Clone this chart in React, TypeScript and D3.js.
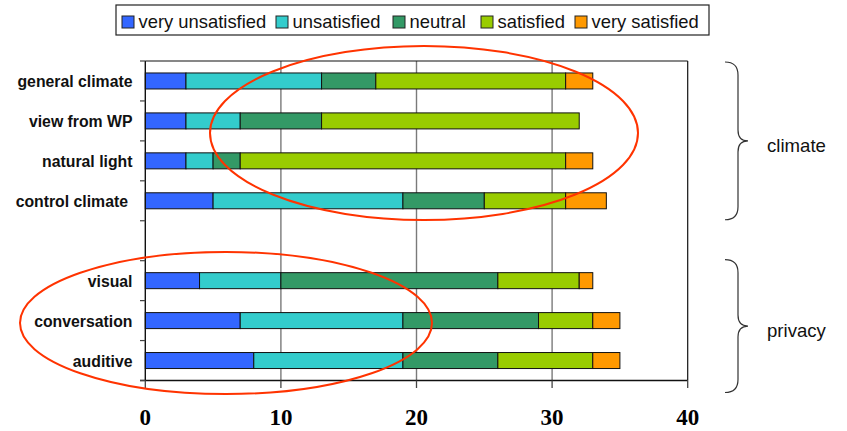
import React from "react";
import * as d3 from "d3";

const climateCategories = ["general climate", "view from WP", "natural light", "control climate"];
const privacyCategories = ["visual", "conversation", "auditive"];
const categories = [...climateCategories, ...privacyCategories];

const seriesNames = ["very unsatisfied", "unsatisfied", "neutral", "satisfied", "very satisfied"];
const seriesColors = ["#3366FF", "#33CCCC", "#339966", "#99CC00", "#FF9900"];

const veryUnsatisfied = [3, 3, 3, 5, 4, 7, 8];
const unsatisfied = [10, 4, 2, 14, 6, 12, 11];
const neutral = [4, 6, 2, 6, 16, 10, 7];
const satisfied = [14, 19, 24, 6, 6, 4, 7];
const verySatisfied = [2, 0, 2, 3, 1, 2, 2];

const xTicks = [0, 10, 20, 30, 40];
const groupLabels = ["climate", "privacy"];

const W = 847;
const H = 431;
const GAP = "__gap__";

export default function App() {
  const seriesValues = [veryUnsatisfied, unsatisfied, neutral, satisfied, verySatisfied];
  const rows = categories.map((c, i) => {
    const r: any = { category: c };
    seriesNames.forEach((s, k) => (r[s] = seriesValues[k][i]));
    return r;
  });
  const stacked = d3.stack().keys(seriesNames)(rows);

  const x = d3.scaleLinear().domain([0, 40]).range([145.3, 687.7]);
  const domain = [...climateCategories, GAP, ...privacyCategories];
  const y = d3.scaleBand().domain(domain).range([61, 380.5]);
  const bw = y.bandwidth();
  const barH = 16;

  const sans = "'Liberation Sans', Arial, sans-serif";
  const serif = "'Liberation Serif', 'Times New Roman', serif";

  const legendX = [122, 276, 393, 481, 575];

  const brace = (y0: number, y1: number) => {
    const xe = 725, xs = 738, xp = 748;
    const m = (y0 + y1) / 2;
    return `M${xe},${y0} Q${xs},${y0} ${xs},${y0 + 13} L${xs},${m - 11} Q${xs},${m} ${xp},${m} Q${xs},${m} ${xs},${m + 11} L${xs},${y1 - 13} Q${xs},${y1} ${xe},${y1}`;
  };

  const climateTop = y(climateCategories[0])!;
  const climateBot = y(climateCategories[climateCategories.length - 1])! + bw;
  const privTop = y(privacyCategories[0])!;
  const privBot = y(privacyCategories[privacyCategories.length - 1])! + bw;

  const boundaries = d3.range(domain.length + 1).map((k) => y.range()[0] + k * bw);

  return (
    <svg width={W} height={H} style={{ position: "absolute", left: 0, top: 0, background: "#fff" }}>
      {/* gridlines */}
      {xTicks.slice(1, -1).map((t) => (
        <line key={"g" + t} x1={x(t)} x2={x(t)} y1={61} y2={380.5} stroke="#7a7a7a" strokeWidth={1.4} />
      ))}
      {/* bars */}
      {stacked.map((s, si) => (
        <g key={s.key} fill={seriesColors[si]} stroke="#111" strokeWidth={1}>
          {s.map((d, i) => {
            const w = x(d[1]) - x(d[0]);
            if (w <= 0) return null;
            const cy = y(categories[i])! + bw / 2;
            return <rect key={i} x={x(d[0])} y={cy - barH / 2} width={w} height={barH} />;
          })}
        </g>
      ))}
      {/* frame */}
      <line x1={x(0)} x2={x(40)} y1={61} y2={61} stroke="#111" strokeWidth={1.2} />
      <line x1={x(40)} x2={x(40)} y1={61} y2={380.5} stroke="#111" strokeWidth={1.2} />
      <line x1={x(0)} x2={x(0)} y1={61} y2={380.5} stroke="#111" strokeWidth={1.4} />
      <line x1={140} x2={x(40)} y1={380.5} y2={380.5} stroke="#111" strokeWidth={1.4} />
      {/* y ticks */}
      {boundaries.map((b, i) => (
        <line key={"yt" + i} x1={140} x2={x(0)} y1={b} y2={b} stroke="#444" strokeWidth={1.2} />
      ))}
      {/* x ticks */}
      {xTicks.map((t) => (
        <g key={"xt" + t}>
          <line x1={x(t)} x2={x(t)} y1={380.5} y2={388} stroke="#444" strokeWidth={1.3} />
          <text x={x(t)} y={425} textAnchor="middle" fontFamily={serif} fontWeight="bold" fontSize={23} fill="#000">
            {t}
          </text>
        </g>
      ))}
      {/* category labels */}
      {categories.map((c) => (
        <text
          key={"cl" + c}
          x={c === "control climate" ? 128 : 132.5}
          y={y(c)! + bw / 2 + 6}
          textAnchor="end"
          fontFamily={sans}
          fontWeight="bold"
          fontSize={15.8}
          fill="#111"
        >
          {c}
        </text>
      ))}
      {/* legend */}
      <rect x={116} y={5} width={593} height={30} fill="#fff" stroke="#222" strokeWidth={1.2} />
      {seriesNames.map((s, i) => (
        <g key={"lg" + s}>
          <rect x={legendX[i]} y={16} width={12} height={12} fill={seriesColors[i]} stroke="#222" strokeWidth={1} />
          <text x={legendX[i] + 16.5} y={28} fontFamily={sans} fontSize={18.4} fill="#111">
            {s}
          </text>
        </g>
      ))}
      {/* ellipses */}
      <ellipse cx={424} cy={133} rx={214} ry={87} fill="none" stroke="#FF3300" strokeWidth={2} />
      <ellipse cx={226} cy={323} rx={206} ry={71} fill="none" stroke="#FF3300" strokeWidth={2} />
      {/* braces */}
      <path d={brace(climateTop + 1, climateBot - 1)} fill="none" stroke="#333" strokeWidth={1.2} />
      <path d={brace(privTop - 1, privBot + 12)} fill="none" stroke="#333" strokeWidth={1.2} />
      <text x={767} y={(climateTop + climateBot) / 2 + 11} fontFamily={sans} fontSize={18.6} fill="#111">
        {groupLabels[0]}
      </text>
      <text x={767} y={(privTop - 1 + privBot + 12) / 2 + 11} fontFamily={sans} fontSize={18.6} fill="#111">
        {groupLabels[1]}
      </text>
    </svg>
  );
}
